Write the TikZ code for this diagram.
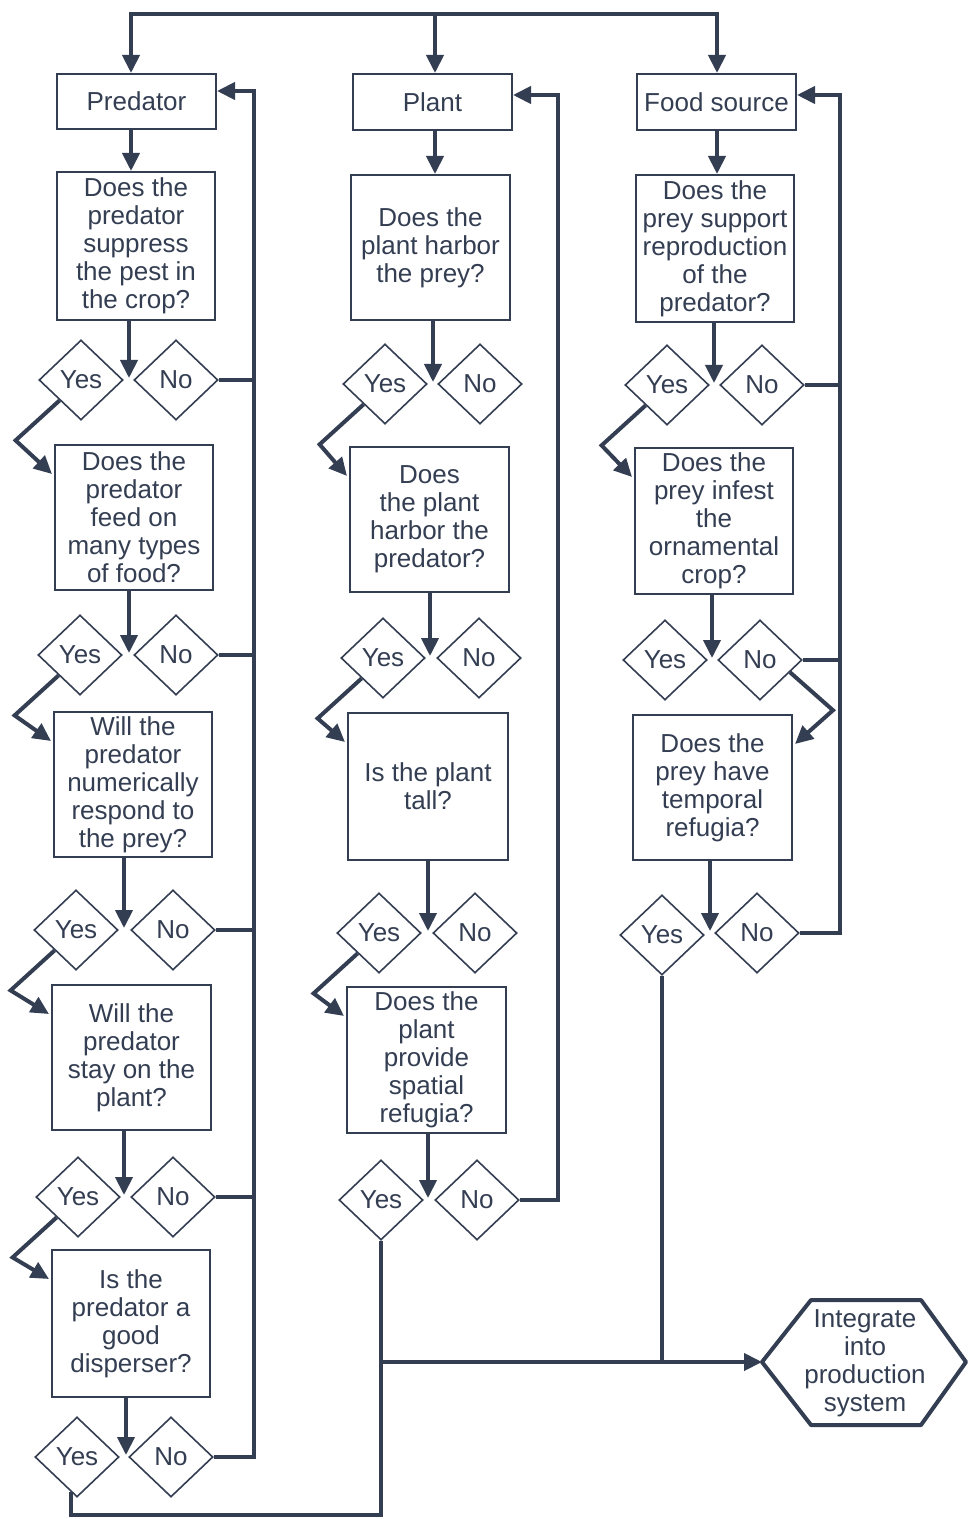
\documentclass[tikz,border=0pt]{standalone}
\usepackage{fontspec}
\setmainfont{Liberation Sans}
\usetikzlibrary{arrows.meta,shapes.geometric,calc}
\definecolor{ink}{RGB}{52,62,82}
\newcommand{\fsz}{\fontsize{13}{14}\selectfont}
\tikzset{
  box/.style={draw=ink, line width=1pt, inner sep=0pt, align=center, font=\fsz, text=ink},
  dia/.style={draw=ink, line width=0.8pt, diamond, minimum width=42pt, minimum height=40pt, inner sep=0pt, font=\fsz, text=ink},
  conn/.style={draw=ink, line width=2pt},
  arr/.style={conn, -{Triangle[length=9pt,width=8.5pt]}},
  darr/.style={conn, {Triangle[length=9pt,width=8.5pt]}-{Triangle[length=9pt,width=8.5pt]}},
}
\begin{document}
\begin{tikzpicture}[x=0.5pt,y=-0.5pt]
\useasboundingbox[fill=white] (0,0) rectangle (970,1519);

% ---------- column 1 : predator ----------
\node[box, minimum width=79.5pt, minimum height=27.5pt] (pred) at (136.5,101.5) {Predator};
\node[box, minimum width=79pt, minimum height=74pt] (q11) at (136,246) {Does the\\predator\\suppress\\the pest in\\the crop?};
\node[box, minimum width=79pt, minimum height=72.5pt] (q12) at (134,517.5) {Does the\\predator\\feed on\\many types\\of food?};
\node[box, minimum width=79pt, minimum height=72.5pt] (q13) at (133,784.5) {Will the\\predator\\numerically\\respond to\\the prey?};
\node[box, minimum width=79.5pt, minimum height=72.5pt] (q14) at (131.5,1057.5) {Will the\\predator\\stay on the\\plant?};
\node[box, minimum width=79pt, minimum height=73.5pt] (q15) at (131,1323.5) {Is the\\predator a\\good\\disperser?};

\coordinate (j11) at (129,378);
\coordinate (j12) at (129,653);
\coordinate (j13) at (124,928);
\coordinate (j14) at (124,1195);
\coordinate (j15) at (126,1455);
\node[dia] (y11) at (81,380) {Yes};   \node[dia] (n11) at (176,380) {No};
\node[dia] (y12) at (80,655) {Yes};   \node[dia] (n12) at (176,655) {No};
\node[dia] (y13) at (76,930) {Yes};   \node[dia] (n13) at (173,930) {No};
\node[dia] (y14) at (78,1197) {Yes};  \node[dia] (n14) at (173,1197) {No};
\node[dia] (y15) at (77,1457) {Yes};  \node[dia] (n15) at (171,1457) {No};

% ---------- column 2 : plant ----------
\node[box, minimum width=79.5pt, minimum height=28pt] (plant) at (432.5,102) {Plant};
\node[box, minimum width=79.5pt, minimum height=72.5pt] (q21) at (430.5,247.5) {Does the\\plant harbor\\the prey?};
\node[box, minimum width=79.5pt, minimum height=72.5pt] (q22) at (429.5,519.5) {Does\\the plant\\harbor the\\predator?};
\node[box, minimum width=80pt, minimum height=73.5pt] (q23) at (428,786.5) {Is the plant\\tall?};
\node[box, minimum width=79.5pt, minimum height=73pt] (q24) at (426.5,1060) {Does the\\plant\\provide\\spatial\\refugia?};

\coordinate (j21) at (433,382);
\coordinate (j22) at (430,656);
\coordinate (j23) at (428,931);
\coordinate (j24) at (428,1198);
\node[dia] (y21) at (385,384) {Yes};  \node[dia] (n21) at (480,384) {No};
\node[dia] (y22) at (383,658) {Yes};  \node[dia] (n22) at (479,658) {No};
\node[dia] (y23) at (379,933) {Yes};  \node[dia] (n23) at (475,933) {No};
\node[dia] (y24) at (381,1200) {Yes}; \node[dia] (n24) at (477,1200) {No};

% ---------- column 3 : food source ----------
\node[box, minimum width=79.5pt, minimum height=28pt] (food) at (716.5,102) {Food source};
\node[box, minimum width=79pt, minimum height=73.5pt] (q31) at (715,248.5) {Does the\\prey support\\reproduction\\of the\\predator?};
\node[box, minimum width=79pt, minimum height=73pt] (q32) at (714,521) {Does the\\prey infest\\the\\ornamental\\crop?};
\node[box, minimum width=79.5pt, minimum height=72.5pt] (q33) at (712.5,787.5) {Does the\\prey have\\temporal\\refugia?};

\coordinate (j31) at (714,383);
\coordinate (j32) at (712,658);
\coordinate (j33) at (710,931);
\node[dia] (y31) at (667,385) {Yes};  \node[dia] (n31) at (762,385) {No};
\node[dia] (y32) at (665,660) {Yes};  \node[dia] (n32) at (760,660) {No};
\node[dia] (y33) at (662,935) {Yes};  \node[dia] (n33) at (757,933) {No};

% ---------- final node ----------
\node[font=\fsz, text=ink, align=center] (integ) at (865,1363) {Integrate\\into\\production\\system};
\coordinate (hexL) at (762,1362);
\draw[ink, line width=2pt, line join=round]
  (hexL) -- (811,1300) -- (921,1300) -- (966,1362) -- (921,1425) -- (811,1425) -- cycle;

% ---------- top distribution ----------
\coordinate (t1) at (131,14);
\coordinate (t2) at (435,14);
\coordinate (t3) at (717,14);
\draw[darr] (t1 |- pred.north) -- (t1) -- (t3) -- (t3 |- food.north);
\draw[arr] (t2) -- (t2 |- plant.north);

% ---------- vertical flow arrows ----------
\draw[arr] (pred.south -| t1) -- (t1 |- q11.north);
\draw[arr] (plant.south -| t2) -- (t2 |- q21.north);
\draw[arr] (food.south -| t3) -- (t3 |- q31.north);

\draw[arr] (q11.south -| j11) -- (j11);
\draw[arr] (q12.south -| j12) -- (j12);
\draw[arr] (q13.south -| j13) -- (j13);
\draw[arr] (q14.south -| j14) -- (j14);
\draw[arr] (q15.south -| j15) -- (j15);
\draw[arr] (q21.south -| j21) -- (j21);
\draw[arr] (q22.south -| j22) -- (j22);
\draw[arr] (q23.south -| j23) -- (j23);
\draw[arr] (q24.south -| j24) -- (j24);
\draw[arr] (q31.south -| j31) -- (j31);
\draw[arr] (q32.south -| j32) -- (j32);
\draw[arr] (q33.south -| j33) -- (j33);

% ---------- yes branches ----------
\draw[arr] (y11.south west) -- ++(-44,40) -- ($(q12.north west)+(-2,30)$);
\draw[arr] (y12.south west) -- ++(-44,40) -- ($(q13.north west)+(-2,30)$);
\draw[arr] (y13.south west) -- ++(-44,40) -- ($(q14.north west)+(-2,30)$);
\draw[arr] (y14.south west) -- ++(-44,40) -- ($(q15.north west)+(-2,30)$);
\draw[arr] (y21.south west) -- ++(-44,40) -- ($(q22.north west)+(-2,30)$);
\draw[arr] (y22.south west) -- ++(-44,40) -- ($(q23.north west)+(-2,30)$);
\draw[arr] (y23.south west) -- ++(-44,40) -- ($(q24.north west)+(-2,30)$);
\draw[arr] (y31.south west) -- ++(-44,40) -- ($(q32.north west)+(-2,30)$);
\draw[arr] ($(n32.east)!0.3!(n32.south)$) -- ++(43,38) -- ($(q33.north east)+(2,30)$);

% ---------- no feedback loops ----------
\coordinate (fb1) at (254,91);
\coordinate (fb2) at (558,95);
\coordinate (fb3) at (840,95);
\draw[conn] (n11.east) -- (n11.east -| fb1);
\draw[conn] (n12.east) -- (n12.east -| fb1);
\draw[conn] (n13.east) -- (n13.east -| fb1);
\draw[conn] (n14.east) -- (n14.east -| fb1);
\draw[arr] (n15.east) -- (n15.east -| fb1) -- (fb1) -- (fb1 -| pred.east);
\draw[arr] (n24.east) -- (n24.east -| fb2) -- (fb2) -- (fb2 -| plant.east);
\draw[conn] (n31.east) -- (n31.east -| fb3);
\draw[conn] (n32.east) -- (n32.east -| fb3);
\draw[arr] (n33.east) -- (n33.east -| fb3) -- (fb3) -- (fb3 -| food.east);

% ---------- to integration ----------
\coordinate (bot) at (381,1515);
\coordinate (mid) at (381,1362);
\draw[conn] ($(y15.south)!0.15!(y15.west)$) |- (bot) -- (y24.south);
\draw[conn] (y33.south) -- (y33.south |- mid);
\draw[arr] (mid) -- (hexL);
\end{tikzpicture}
\end{document}
